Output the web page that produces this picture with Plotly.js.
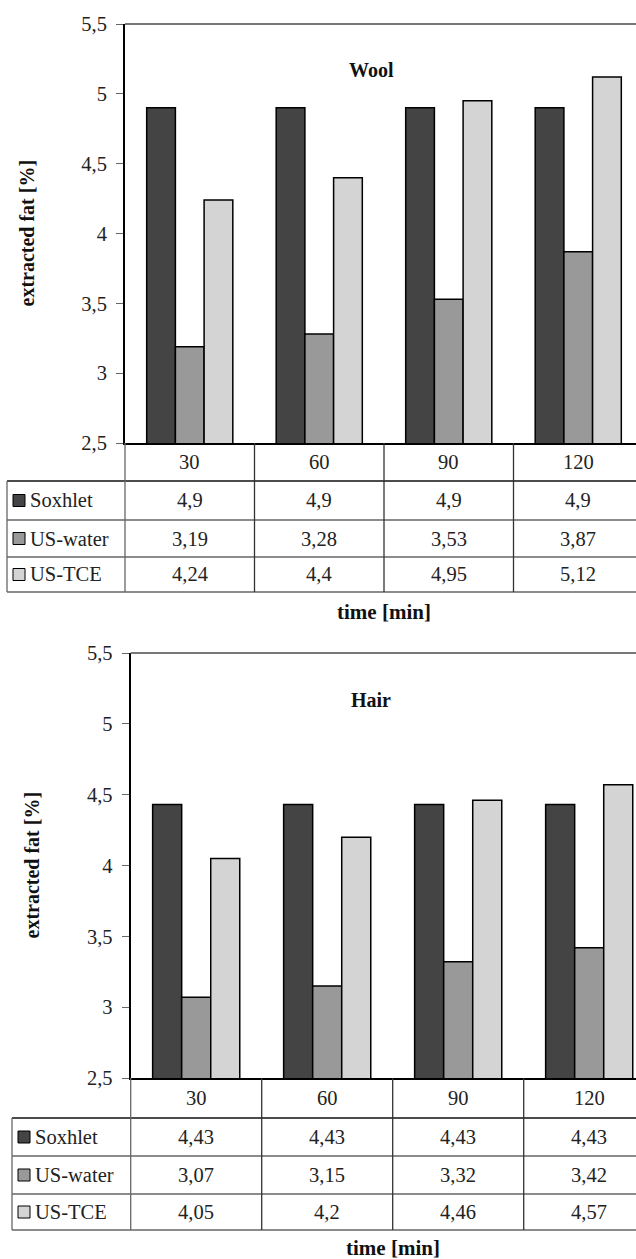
<!DOCTYPE html>
<html>
<head>
<meta charset="utf-8">
<script src="https://cdn.plot.ly/plotly-3.0.1.min.js"></script>
<style>
html,body{margin:0;padding:0;background:#fff;overflow:hidden;}
#chart{width:636px;height:1259px;}
</style>
</head>
<body>
<div id="chart"></div>
<script>
// ---- data ----
const categories = ['30', '60', '90', '120'];
const seriesNames = ['Soxhlet', 'US-water', 'US-TCE'];
const woolSoxhlet = [4.9, 4.9, 4.9, 4.9];
const woolWater = [3.19, 3.28, 3.53, 3.87];
const woolTCE = [4.24, 4.4, 4.95, 5.12];
const hairSoxhlet = [4.43, 4.43, 4.43, 4.43];
const hairWater = [3.07, 3.15, 3.32, 3.42];
const hairTCE = [4.05, 4.2, 4.46, 4.57];
const yTickVals = [2.5, 3, 3.5, 4, 4.5, 5, 5.5];
const yTickText = ['2,5', '3', '3,5', '4', '4,5', '5', '5,5'];
const panelTitles = ['Wool', 'Hair'];
const yTitle = 'extracted fat [%]';
const xTitle = 'time [min]';

// ---- styling ----
const W = 636, H = 1259;
const colors = ['#444444', '#999999', '#d4d4d4'];
const FONT = 'Liberation Serif, Times New Roman, serif';
const FS = 20.5;
const px = x => x / W;
const py = y => 1 - y / H;
const fmt = v => String(v).replace('.', ',');

// panel geometry (pixels)
const panels = [
  {data: [woolSoxhlet, woolWater, woolTCE], left: 125, groupW: 129.5, top: 24, bottom: 443,
   rows: [481, 520, 557, 592], tableLeft: 7, titleY: 70, xTitleY: 612, yTitleX: 26},
  {data: [hairSoxhlet, hairWater, hairTCE], left: 130.7, groupW: 131, top: 653, bottom: 1078,
   rows: [1118, 1156, 1194, 1230], tableLeft: 12, titleY: 700, xTitleY: 1248, yTitleX: 31}
];

const traces = [];
const shapes = [];
const annotations = [];
const layout = {
  width: W, height: H,
  margin: {l: 0, r: 0, t: 0, b: 0},
  paper_bgcolor: '#fff', plot_bgcolor: 'rgba(0,0,0,0)',
  showlegend: false,
  barmode: 'group', bargap: 0.335, bargroupgap: 0,
  separators: ', ',
  font: {family: FONT, size: FS, color: '#222'},
  hovermode: false
};

panels.forEach((p, i) => {
  const xa = i === 0 ? 'x' : 'x2';
  const ya = i === 0 ? 'y' : 'y2';
  const xKey = i === 0 ? 'xaxis' : 'xaxis2';
  const yKey = i === 0 ? 'yaxis' : 'yaxis2';
  p.data.forEach((vals, s) => {
    traces.push({
      type: 'bar', x: categories, y: vals, name: seriesNames[s],
      xaxis: xa, yaxis: ya,
      marker: {color: colors[s], line: {color: '#000', width: 1.5}},
      cliponaxis: true
    });
  });
  const nGroups = categories.length;
  const xmax = -0.5 + (W - p.left) / p.groupW;
  layout[xKey] = {
    domain: [px(p.left), 1], range: [-0.5, xmax], type: 'category',
    showline: true, linecolor: '#000', linewidth: 2,
    showticklabels: false, ticks: '', showgrid: false, zeroline: false,
    anchor: ya, fixedrange: true
  };
  layout[yKey] = {
    domain: [py(p.bottom), py(p.top)], range: [2.5, 5.5],
    tickvals: yTickVals, ticktext: yTickText,
    showline: true, linecolor: '#000', linewidth: 2,
    ticks: 'outside', ticklen: 7, tickwidth: 1, tickcolor: '#666',
    ticklabelstandoff: 5,
    tickfont: {family: FONT, size: FS, color: '#222'},
    showgrid: false, zeroline: false, anchor: xa, fixedrange: true
  };
  // top border of plot
  shapes.push({type: 'line', xref: 'paper', yref: 'paper',
    x0: px(p.left), x1: 1, y0: py(p.top), y1: py(p.top),
    line: {color: '#777', width: 2}});
  // panel title
  annotations.push({xref: 'paper', yref: 'paper', x: px(371), y: py(p.titleY),
    text: '<b>' + panelTitles[i] + '</b>', showarrow: false,
    xanchor: 'center', yanchor: 'middle',
    font: {family: FONT, size: 20, color: '#111'}});
  // y title
  annotations.push({xref: 'paper', yref: 'paper', x: px(p.yTitleX), y: py((p.top + p.bottom) / 2),
    text: '<b>' + yTitle + '</b>', showarrow: false, textangle: -90,
    xanchor: 'center', yanchor: 'middle',
    font: {family: FONT, size: 20, color: '#111'}});
  // x title
  annotations.push({xref: 'paper', yref: 'paper', x: px(p.left + 2 * p.groupW), y: py(p.xTitleY),
    text: '<b>' + xTitle + '</b>', showarrow: false,
    xanchor: 'center', yanchor: 'middle',
    font: {family: FONT, size: 21, color: '#111'}});

  // ---- data table ----
  const rowEdges = [p.bottom].concat(p.rows);
  const tableBottom = p.rows[p.rows.length - 1];
  p.rows.forEach((ry, k) => {
    shapes.push({type: 'line', xref: 'paper', yref: 'paper',
      x0: px(p.tableLeft), x1: 1, y0: py(ry), y1: py(ry),
      line: {color: k === 0 ? '#111' : '#666', width: 1.3}});
  });
  shapes.push({type: 'line', xref: 'paper', yref: 'paper',
    x0: px(p.tableLeft), x1: px(p.tableLeft), y0: py(p.rows[0]), y1: py(tableBottom),
    line: {color: '#666', width: 1.3}});
  for (let c = 0; c < nGroups; c++) {
    const vx = p.left + c * p.groupW;
    shapes.push({type: 'line', xref: 'paper', yref: 'paper',
      x0: px(vx), x1: px(vx), y0: py(p.bottom), y1: py(tableBottom),
      line: {color: c === 0 ? '#666' : '#333', width: 1.3}});
  }
  categories.forEach((cat, c) => {
    annotations.push({xref: 'paper', yref: 'paper',
      x: px(p.left + (c + 0.5) * p.groupW), y: py((rowEdges[0] + rowEdges[1]) / 2),
      text: cat, showarrow: false, xanchor: 'center', yanchor: 'middle',
      font: {family: FONT, size: FS, color: '#222'}});
  });
  seriesNames.forEach((name, s) => {
    const y0 = rowEdges[s + 1], y1 = rowEdges[s + 2];
    const cy = (y0 + y1) / 2;
    shapes.push({type: 'rect', xref: 'paper', yref: 'paper',
      x0: px(p.tableLeft + 6), x1: px(p.tableLeft + 18), y0: py(cy - 6), y1: py(cy + 6),
      fillcolor: colors[s], line: {color: '#000', width: 1}});
    annotations.push({xref: 'paper', yref: 'paper', x: px(p.tableLeft + 21), y: py(cy),
      text: name, showarrow: false, xanchor: 'left', yanchor: 'middle',
      font: {family: FONT, size: FS, color: '#222'}});
    p.data[s].forEach((v, c) => {
      annotations.push({xref: 'paper', yref: 'paper',
        x: px(p.left + (c + 0.5) * p.groupW), y: py(cy),
        text: fmt(v), showarrow: false, xanchor: 'center', yanchor: 'middle',
        font: {family: FONT, size: FS, color: '#222'}});
    });
  });
});

layout.shapes = shapes;
layout.annotations = annotations;

Plotly.newPlot('chart', traces, layout, {staticPlot: true, displayModeBar: false});
</script>
</body>
</html>
